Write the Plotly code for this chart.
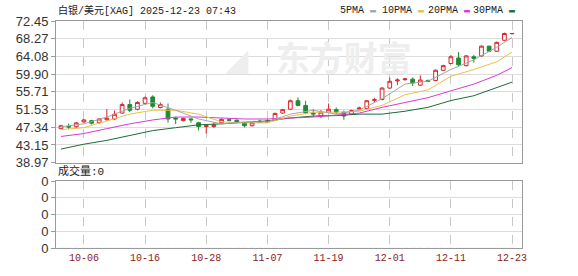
import plotly.graph_objects as go

# ---------------- data ----------------
dates = ["10-01", "10-02", "10-03", "10-06", "10-07", "10-08", "10-09", "10-10",
         "10-13", "10-14", "10-15", "10-16", "10-17", "10-20", "10-21", "10-22", "10-23", "10-24",
         "10-27", "10-28", "10-29", "10-30", "10-31",
         "11-03", "11-04", "11-05", "11-06", "11-07", "11-10", "11-11", "11-12", "11-13", "11-14",
         "11-17", "11-18", "11-19", "11-20", "11-21", "11-24", "11-25", "11-26", "11-27", "11-28",
         "12-01", "12-02", "12-03", "12-04", "12-05", "12-08", "12-09", "12-10", "12-11", "12-12",
         "12-15", "12-16", "12-17", "12-18", "12-19", "12-22", "12-23"]

open_ = [47.00, 47.5, 47.46, 48.6, 48.9, 48.4, 49.1, 49.3, 50.7, 52.7,
         51.6, 53.0, 54.5, 52.0, 51.6, 49.5, 48.9, 49.3, 48.4, 47.5,
         47.5, 48.4, 49.1, 49.0, 48.4, 47.7, 48.8, 48.6, 49.0, 50.7,
         51.6, 53.6, 52.5, 50.7, 50.0, 50.9, 51.5, 50.9, 50.4, 51.7,
         51.8, 53.7, 53.9, 56.6, 58.3, 58.6, 58.7, 57.3, 58.4, 58.4,
         60.8, 62.4, 63.7, 61.9, 64.0, 64.2, 66.5, 65.3, 67.9, 69.45]
high = [47.9, 48.2, 48.6, 49.3, 49.1, 49.5, 51.6, 51.3, 53.2, 53.9,
        53.5, 54.6, 54.9, 53.2, 52.96, 49.8, 49.6, 49.5, 48.6, 47.8,
        48.5, 49.4, 49.5, 49.2, 48.6, 48.6, 49.1, 49.2, 50.8, 51.7,
        53.9, 54.4, 53.6, 51.6, 51.4, 52.96, 52.0, 51.3, 51.5, 52.2,
        53.8, 54.3, 56.8, 59.1, 58.9, 59.0, 59.1, 59.6, 58.6, 61.0,
        62.1, 64.4, 65.1, 64.4, 64.4, 66.7, 66.6, 67.6, 69.7, 69.6]
low = [46.8, 46.9, 47.2, 48.4, 48.0, 48.2, 48.9, 49.0, 50.5, 50.9,
       51.3, 52.8, 51.8, 51.8, 48.4, 48.1, 48.7, 48.4, 46.6, 45.85,
       47.2, 48.2, 48.7, 48.4, 47.3, 47.5, 48.4, 48.4, 48.8, 50.5,
       51.4, 52.3, 50.4, 49.8, 49.5, 50.7, 50.4, 49.1, 50.2, 51.5,
       51.6, 53.2, 53.7, 56.4, 57.3, 58.3, 57.1, 57.1, 58.0, 58.2,
       60.6, 62.2, 61.7, 61.7, 62.6, 64.0, 65.1, 65.1, 67.7, 69.3]
close = [47.69, 47.4, 48.37, 49.06, 48.3, 49.3, 49.5, 50.4, 52.7, 51.35,
         53.2, 54.3, 52.3, 52.7, 49.3, 49.3, 49.4, 49.1, 47.5, 47.7,
         47.9, 49.2, 49.0, 48.6, 47.7, 48.4, 48.6, 48.8, 50.6, 51.5,
         53.6, 52.5, 50.7, 50.5, 50.9, 51.6, 50.9, 50.0, 51.3, 51.85,
         53.6, 53.85, 56.6, 58.2, 58.5, 58.75, 57.8, 58.5, 58.2, 60.8,
         61.9, 64.0, 62.1, 64.2, 63.6, 66.5, 65.3, 67.4, 69.5, 69.5]
volume = [0] * 60

# moving averages at these trading-day positions
ma_dates = ["10-01", "10-06", "10-09", "10-14", "10-17", "10-22", "10-27", "10-30",
            "11-04", "11-07", "11-12", "11-17", "11-20", "11-25", "11-28", "12-03",
            "12-08", "12-11", "12-16", "12-19", "12-23"]
ma5 = [47.46, 48.14, 49.75, 51.81, 53.19, 51.35, 49.29, 48.14, 48.60, 48.60, 50.44,
       51.35, 50.44, 51.35, 54.10, 57.54, 58.23, 60.98, 63.28, 66.26, 68.55]
ma10 = [46.77, 47.23, 48.83, 50.44, 51.35, 51.35, 50.44, 48.60, 48.37, 48.37, 49.98,
        50.89, 50.89, 51.12, 52.50, 55.02, 56.17, 59.38, 60.98, 62.82, 65.11]
ma20 = [45.16, 45.85, 47.00, 48.14, 49.06, 49.75, 49.75, 49.52, 49.29, 49.29, 49.52,
        49.75, 50.21, 50.67, 52.04, 53.19, 54.33, 55.94, 57.54, 59.61, 61.44]
ma30 = [42.18, 43.33, 44.24, 45.39, 46.54, 47.23, 47.91, 48.14, 48.49, 48.83, 49.52,
        49.98, 50.09, 50.44, 50.44, 51.12, 52.04, 53.65, 54.79, 56.63, 58.00]

y_ticks = [38.97, 43.15, 47.34, 51.53, 55.71, 59.90, 64.08, 68.27, 72.45]
x_ticks = ["10-06", "10-16", "10-28", "11-07", "11-19", "12-01", "12-11", "12-23"]
vol_ticks = [0, 0.25, 0.5, 0.75, 1.0]
vol_labels = ["0", "0", "0", "0", "0"]

ma_names = ["5PMA", "10PMA", "20PMA", "30PMA"]
ma_colors = ["#a6a6a6", "#e8c24a", "#d63ad6", "#1c6b3a"]

UP = "#d8262c"
DOWN = "#1f8a33"
GRID = "#dcdcdc"
BORDER = "#9a9a9a"

fig = go.Figure()

# faint watermark drawn first so that it stays beneath the marks
fig.add_trace(go.Scatter(x=["11-21"], y=[62.6], mode="text", text=["<b>东方财富</b>"],
                         textfont=dict(family="Noto Sans CJK SC", size=34, color="#eeeeee"),
                         hoverinfo="skip", showlegend=False, xaxis="x", yaxis="y"))
fig.add_trace(go.Scatter(x=["11-03"], y=[62.6], mode="text", text=["◢"],
                         textfont=dict(family="DejaVu Sans", size=30, color="#eeeeee"),
                         hoverinfo="skip", showlegend=False, xaxis="x", yaxis="y"))

for vals, col in zip([ma30, ma20, ma10, ma5], ma_colors[::-1]):
    fig.add_trace(go.Scatter(x=ma_dates, y=vals, mode="lines",
                             line=dict(color=col, width=1), hoverinfo="skip",
                             showlegend=False, xaxis="x", yaxis="y"))

fig.add_trace(go.Candlestick(
    x=dates, open=open_, high=high, low=low, close=close,
    increasing=dict(line=dict(color=UP, width=1), fillcolor="#ffffff"),
    decreasing=dict(line=dict(color=DOWN, width=1), fillcolor=DOWN),
    showlegend=False, xaxis="x", yaxis="y"))

fig.add_trace(go.Bar(x=dates, y=volume, marker_color=UP, showlegend=False,
                     xaxis="x2", yaxis="y2"))

x_range = [-0.65, 60.3]
common_x = dict(type="category", categoryorder="array", categoryarray=dates,
                range=x_range, tickmode="array", tickvals=x_ticks, ticktext=x_ticks,
                showgrid=True, gridcolor="#c8c8c8", griddash="dash", gridwidth=1,
                showline=True, linecolor=BORDER, mirror=True, zeroline=False,
                ticks="", rangeslider=dict(visible=False))

fig.update_layout(
    width=578, height=276,
    margin=dict(l=56, r=56, t=21, b=21),
    paper_bgcolor="white", plot_bgcolor="white",
    xaxis=dict(**common_x, anchor="y", showticklabels=False),
    xaxis2=dict(**common_x, anchor="y2", matches="x", showticklabels=True,
                tickfont=dict(family="Liberation Mono", size=10, color="#8b1a1a")),
    yaxis=dict(domain=[0.376, 1.0], range=[38.97, 72.45], tickmode="array",
               tickvals=y_ticks, ticktext=[f"{v:.2f}" for v in y_ticks],
               showgrid=True, gridcolor=GRID, zeroline=False,
               showline=True, linecolor=BORDER, mirror=True,
               ticks="outside", ticklen=4, tickcolor=BORDER,
               tickfont=dict(family="Liberation Sans", size=13, color="#333333")),
    yaxis2=dict(domain=[0.0, 0.295], range=[0, 1], tickmode="array",
                tickvals=vol_ticks, ticktext=vol_labels,
                showgrid=True, gridcolor=GRID, zeroline=False,
                showline=True, linecolor=BORDER, mirror=True,
                ticks="outside", ticklen=4, tickcolor=BORDER,
                tickfont=dict(family="Liberation Sans", size=13, color="#333333")),
    hovermode=False,
)

annotations = [
    dict(text="白银/美元[XAG] 2025-12-23 07:43", x=0.0, y=1.047, xref="paper", yref="paper",
         xanchor="left", yanchor="middle", showarrow=False,
         font=dict(family="Liberation Mono, Noto Sans CJK SC", size=10, color="#222222")),
    dict(text="成交量:0", x=0.0, y=0.338, xref="paper", yref="paper",
         xanchor="left", yanchor="middle", showarrow=False,
         font=dict(family="Liberation Mono, Noto Sans CJK SC", size=11, color="#222222")),
]
legend_x = [338, 380, 426, 471]
for name, col, px in zip(ma_names, ma_colors, legend_x):
    annotations.append(dict(
        text=f"{name}<span style='color:{col}'> ▬</span>",
        x=(px - 56) / 466, y=1.047, xref="paper", yref="paper",
        xanchor="left", yanchor="middle", showarrow=False,
        font=dict(family="Liberation Mono", size=10, color="#222222")))
fig.update_layout(annotations=annotations)

fig.write_html("out.html")
